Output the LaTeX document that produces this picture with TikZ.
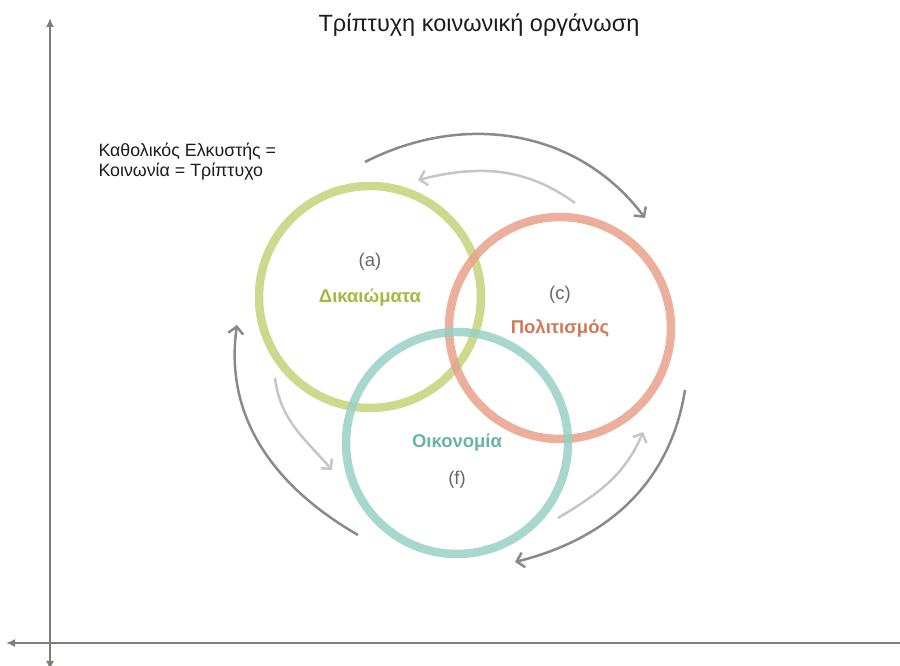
\documentclass[tikz,border=0pt]{standalone}
\usepackage{fontspec}
\setmainfont{Liberation Sans}
\usetikzlibrary{
arrows.meta,
positioning
}
\definecolor{TriGreen}{HTML}{C4D479}
\definecolor{TriGreenText}{HTML}{A6B842}
\definecolor{TriRed}{HTML}{E8A189}
\definecolor{TriRedText}{HTML}{D17859}
\definecolor{TriTeal}{HTML}{98D0C6}
\definecolor{TriTealText}{HTML}{6AB3A6}
\definecolor{TriAxis}{HTML}{7E7E78}
\definecolor{TriDark}{HTML}{8A8A8A}
\definecolor{TriLight}{HTML}{C6C6C6}
\definecolor{TriMark}{HTML}{666666}
\definecolor{TriInk}{HTML}{1C1C1C}
\tikzset{
triring/.style={circle, draw=#1, draw opacity=0.85, line width=8.5pt,
  minimum size=222pt, inner sep=0pt},
triname/.style={anchor=base, font=\bfseries\fontsize{18.5}{22}\selectfont},
trimark/.style={anchor=base, text=TriMark, font=\fontsize{18.5}{22}\selectfont},
triaxis/.style={draw=TriAxis, line width=1.8pt},
tridark/.style={-{Straight Barb[length=7pt,width=15pt]}, draw=TriDark, line width=2.5pt},
trilight/.style={-{Straight Barb[length=7pt,width=15pt]}, draw=TriLight, line width=2.5pt}
}

\begin{document}
\begin{tikzpicture}[x=1pt, y=1pt, >={Latex[length=9pt,width=8pt]}]
\useasboundingbox (0,0) rectangle (900,666);

\coordinate (ytop) at (50,648);
\coordinate (ybot) at (50,-4);
\coordinate (xleft) at (6,23);
\coordinate (xright) at (900,23);
\draw[triaxis, <->] (ybot) -- (ytop);
\draw[triaxis, ->] (xright) -- (xleft);

\node[anchor=base, text=TriInk, font=\fontsize{23.5}{27}\selectfont] (title) at (479,634) {Τρίπτυχη κοινωνική οργάνωση};
\node[anchor=base west, align=left, text=TriInk, font=\fontsize{17.8}{20}\selectfont] (attractor) at (95,489) {Καθολικός Ελκυστής =\\Κοινωνία = Τρίπτυχο};

\node[triring=TriGreen] (ringA) at (370,369) {};
\node[triring=TriRed] (ringC) at (560,338) {};
\node[triring=TriTeal] (ringF) at (457,223) {};

\node[trimark] (markA) at ([yshift=30pt]ringA.center) {(a)};
\node[triname, text=TriGreenText] (nameA) at ([yshift=-6pt]ringA.center) {Δικαιώματα};
\node[trimark] (markC) at ([yshift=28pt]ringC.center) {(c)};
\node[triname, text=TriRedText] (nameC) at ([yshift=-6pt]ringC.center) {Πολιτισμός};
\node[triname, text=TriTealText] (nameF) at ([yshift=-5pt]ringF.center) {Οικονομία};
\node[trimark] (markF) at ([yshift=-42pt]ringF.center) {(f)};

\coordinate (darkAs) at (365,504);
\coordinate (darkAe) at (645,448);
\coordinate (darkBs) at (685,276);
\coordinate (darkBe) at (515,104);
\coordinate (darkCs) at (358,131);
\coordinate (darkCe) at (237,341);
\draw[tridark] (darkAs) to[out=27, in=127] (darkAe);
\draw[tridark] (darkBs) to[out=-99, in=14] (darkBe);
\draw[tridark] (darkCs) to[out=150, in=262] (darkCe);

\coordinate (lightAs) at (575,463);
\coordinate (lightAe) at (418,486);
\coordinate (lightBs) at (275,288);
\coordinate (lightBe) at (332,196);
\coordinate (lightCs) at (558,148);
\coordinate (lightCe) at (643,234);
\draw[trilight] (lightAs) to[out=144, in=14] (lightAe);
\draw[trilight] (lightBs) to[out=-83, in=131] (lightBe);
\draw[trilight] (lightCs) to[out=31, in=247] (lightCe);
\end{tikzpicture}
\end{document}
